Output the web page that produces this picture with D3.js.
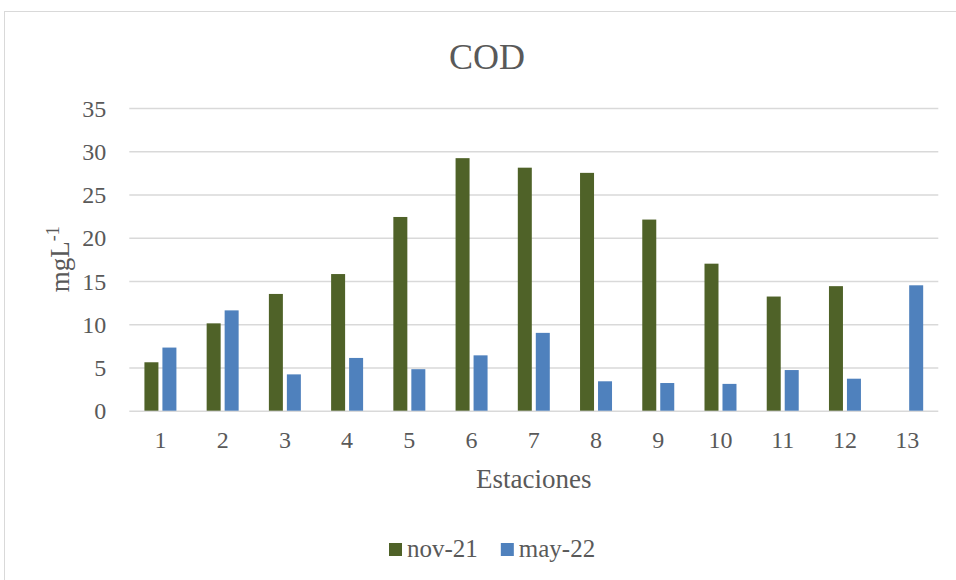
<!DOCTYPE html>
<html>
<head>
<meta charset="utf-8">
<script src="https://cdn.jsdelivr.net/npm/d3@7"></script>
<style>
  html, body { margin: 0; padding: 0; background: #fff; }
  svg { display: block; }
  text { font-family: "Liberation Serif", "DejaVu Serif", serif; fill: #595959; }
</style>
</head>
<body>
<svg id="chart" width="956" height="580"></svg>
<script>
// Stations sampled and COD readings (mg L-1) for the two campaigns
const estaciones = ["1", "2", "3", "4", "5", "6", "7", "8", "9", "10", "11", "12", "13"];
const nov21 = [5.6, 10.1, 13.5, 15.8, 22.4, 29.2, 28.1, 27.5, 22.1, 17.0, 13.2, 14.4, null];
const may22 = [7.3, 11.6, 4.2, 6.1, 4.8, 6.4, 9.0, 3.4, 3.2, 3.1, 4.7, 3.7, 14.5];
const seriesNames = ["nov-21", "may-22"];
const seriesColors = ["#4F6228", "#4F81BD"];
const yTicks = [0, 5, 10, 15, 20, 25, 30, 35];

const series = [nov21, may22];
const svg = d3.select("#chart");

// outer chart frame
svg.append("rect")
  .attr("x", 4.5).attr("y", 11.5)
  .attr("width", 972).attr("height", 600)
  .attr("fill", "#fff").attr("stroke", "#d9d9d9").attr("stroke-width", 1);

const plot = { left: 129.3, right: 938.3, top: 108, bottom: 410.7 };

const x = d3.scaleBand().domain(estaciones).range([plot.left, plot.right]).padding(0);
const y = d3.scaleLinear().domain([0, 35]).range([plot.bottom, plot.top]);

// pair of bars centred inside each station band
const groupW = x.bandwidth() * 0.514;
const inner = d3.scaleBand().domain(seriesNames)
  .range([-groupW / 2, groupW / 2]).paddingInner(0.222).paddingOuter(0);

// horizontal gridlines + y tick labels
const yAxis = svg.append("g")
  .attr("transform", `translate(${plot.left},0)`)
  .call(d3.axisLeft(y).tickValues(yTicks).tickSize(-(plot.right - plot.left)).tickPadding(23));
yAxis.select(".domain").remove();
yAxis.selectAll(".tick line").attr("stroke", "#d9d9d9").attr("stroke-width", 1.4);
yAxis.selectAll(".tick text")
  .attr("font-size", 24).attr("fill", "#595959")
  .style("font-family", "Liberation Serif, serif")
  .attr("dy", "0.34em");

// bars
seriesNames.forEach((name, si) => {
  const data = estaciones.map((e, i) => ({ e, v: series[si][i] })).filter(d => d.v != null);
  svg.append("g").selectAll("rect")
    .data(data)
    .join("rect")
    .attr("x", d => x(d.e) + x.bandwidth() / 2 + inner(name))
    .attr("width", inner.bandwidth())
    .attr("y", d => y(d.v))
    .attr("height", d => y(0) - y(d.v))
    .attr("fill", seriesColors[si]);
});

// x tick labels
const xAxis = svg.append("g")
  .attr("transform", `translate(0,${plot.bottom})`)
  .call(d3.axisBottom(x).tickSize(0).tickPadding(20));
xAxis.select(".domain").remove();
xAxis.selectAll(".tick text")
  .attr("font-size", 24).attr("fill", "#595959")
  .style("font-family", "Liberation Serif, serif");

// chart title
svg.append("text")
  .attr("x", 487).attr("y", 69)
  .attr("text-anchor", "middle")
  .attr("font-size", 36)
  .text("COD");

// x axis title
svg.append("text")
  .attr("x", (plot.left + plot.right) / 2).attr("y", 488)
  .attr("text-anchor", "middle")
  .attr("font-size", 27)
  .text("Estaciones");

// y axis title with superscript
const yt = svg.append("text")
  .attr("transform", `translate(69,${(plot.top + plot.bottom) / 2}) rotate(-90)`)
  .attr("text-anchor", "middle")
  .attr("font-size", 27);
yt.append("tspan").text("mgL");
yt.append("tspan").attr("dy", -10).attr("font-size", 18).text("-1");

// legend
const legend = svg.append("g").attr("transform", "translate(389,543)");
let lx = 0;
seriesNames.forEach((name, i) => {
  const g = legend.append("g").attr("transform", `translate(${lx},0)`);
  g.append("rect").attr("width", 13).attr("height", 13).attr("fill", seriesColors[i]);
  const t = g.append("text").attr("x", 18).attr("y", 13.5).attr("font-size", 25).text(name);
  lx += 18 + t.node().getComputedTextLength() + 23;
});
</script>
</body>
</html>
